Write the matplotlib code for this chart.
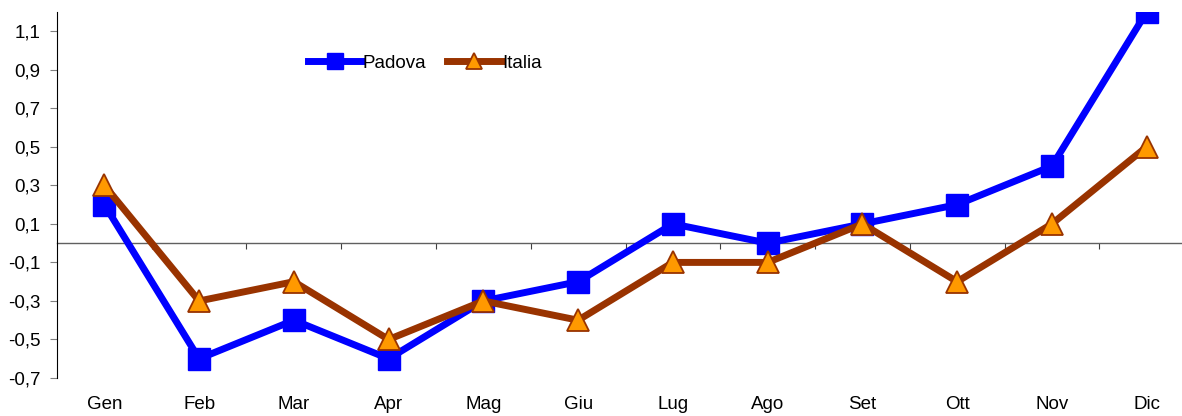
import matplotlib.pyplot as plt

plt.rcParams['font.family'] = ['Liberation Sans', 'DejaVu Sans']

# months and monthly changes (%)
mesi = ['Gen', 'Feb', 'Mar', 'Apr', 'Mag', 'Giu', 'Lug', 'Ago', 'Set', 'Ott', 'Nov', 'Dic']
padova = [0.2, -0.6, -0.4, -0.6, -0.3, -0.2, 0.1, 0.0, 0.1, 0.2, 0.4, 1.2]
italia = [0.3, -0.3, -0.2, -0.5, -0.3, -0.4, -0.1, -0.1, 0.1, -0.2, 0.1, 0.5]
yticks = [-0.7, -0.5, -0.3, -0.1, 0.1, 0.3, 0.5, 0.7, 0.9, 1.1]

fig = plt.figure(figsize=(11.82, 4.16), dpi=100)
ax = fig.add_axes([0.0482, 0.0913, 0.962, 0.88])

x = list(range(len(mesi)))
ax.plot(x, padova, color='#0000FF', lw=5, marker='s', ms=16,
        mfc='#0000FF', mec='#0000FF', label='Padova', zorder=4)
ax.plot(x, italia, color='#993300', lw=5, marker='^', ms=16,
        mfc='#FF9900', mec='#993300', mew=1.3, label='Italia', zorder=5)

ax.set_xlim(-0.5, len(mesi) - 0.5)
ax.set_ylim(-0.7, 1.2)

ax.set_yticks(yticks)
ax.set_yticklabels([f'{v:.1f}'.replace('.', ',') for v in yticks], fontsize=13.5)
ax.tick_params(axis='y', direction='out', length=5, color='#808080', pad=7)

ax.set_xticks(x)
ax.set_xticklabels(mesi, fontsize=13.5)
ax.tick_params(axis='x', length=0, pad=13)

for s in ['top', 'right', 'bottom']:
    ax.spines[s].set_visible(False)
ax.spines['left'].set_color('black')

# zero line with tick marks between months
sec = ax.secondary_xaxis(0, transform=ax.transData)
sec.set_xticks([i + 0.5 for i in x[:-1]])
sec.set_xticklabels([])
sec.tick_params(direction='out', length=4, color='#404040')
sec.spines['bottom'].set_color('#606060')
sec.spines['bottom'].set_linewidth(1)

leg = ax.legend(loc='center left', bbox_to_anchor=(0.246, 0.848),
                bbox_transform=fig.transFigure, ncol=2, frameon=False,
                fontsize=13.5, handlelength=2.9, handletextpad=0.05,
                columnspacing=1.1, markerscale=0.7)

fig.savefig('out.png', dpi=100)
